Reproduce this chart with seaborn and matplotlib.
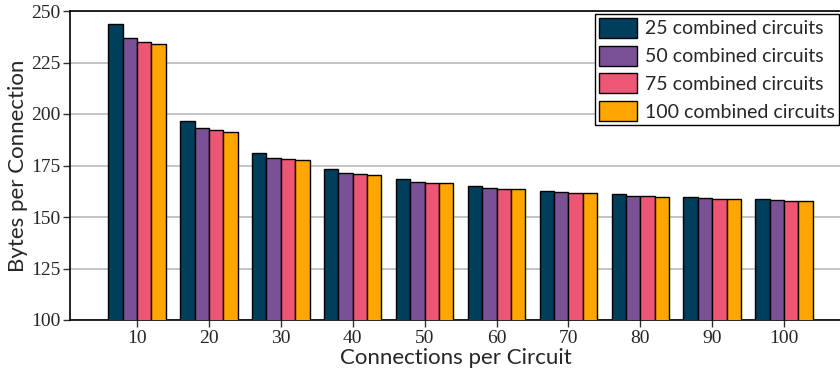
import matplotlib
matplotlib.use("Agg")
import matplotlib.pyplot as plt
import seaborn as sns
import pandas as pd

# Average bytes per connection, by connections per circuit and number of combined circuits
connections = [10, 20, 30, 40, 50, 60, 70, 80, 90, 100]
combined_25 = [243.7, 196.6, 180.9, 173.2, 168.3, 165.2, 162.8, 161.2, 159.9, 158.9]
combined_50 = [237.1, 193.4, 178.8, 171.4, 167.0, 164.1, 162.0, 160.3, 159.1, 158.1]
combined_75 = [235.0, 192.2, 178.0, 170.9, 166.7, 163.6, 161.7, 160.0, 158.9, 157.9]
combined_100 = [233.8, 191.4, 177.5, 170.5, 166.4, 163.4, 161.5, 159.9, 158.7, 157.8]
series_labels = ["25 combined circuits", "50 combined circuits",
                 "75 combined circuits", "100 combined circuits"]
colors = ["#003f5c", "#7a5195", "#ef5675", "#ffa600"]
y_ticks = [100, 125, 150, 175, 200, 225, 250]

rows = []
for label, values in zip(series_labels, [combined_25, combined_50, combined_75, combined_100]):
    for c, v in zip(connections, values):
        rows.append({"Connections per Circuit": str(c), "Bytes": v, "Series": label})
df = pd.DataFrame(rows)

sns.set_theme(style="white")
serif = ["Liberation Serif", "DejaVu Serif"]
sans = ["Lato", "DejaVu Sans"]
plt.rcParams["font.family"] = serif

fig = plt.figure(figsize=(8.4, 3.8), dpi=100)
ax = fig.add_axes([70 / 840, 60 / 380, 772 / 840, 309 / 380])

sns.barplot(data=df, x="Connections per Circuit", y="Bytes", hue="Series",
            palette=colors, width=0.8, edgecolor="black", linewidth=1.0,
            saturation=1.0, ax=ax, zorder=3)

ax.set_ylim(100, 250)
ax.set_xlim(-0.932, 9.805)
ax.set_yticks(y_ticks)
ax.set_yticklabels([str(t) for t in y_ticks], fontfamily=serif, fontsize=14)
ax.set_xticks(range(len(connections)))
ax.set_xticklabels([str(c) for c in connections], fontfamily=serif, fontsize=14)
ax.yaxis.grid(True, color="#bbbbbb", linewidth=1.2, zorder=0)
ax.set_axisbelow(True)

for side in ["left", "bottom", "top", "right"]:
    ax.spines[side].set_color("black")
    ax.spines[side].set_linewidth(1.2)

ax.tick_params(axis="both", which="major", direction="out", length=5, width=1.0,
               color="#333333", pad=2, left=True, bottom=True)

ax.set_xlabel("Connections per Circuit", fontsize=16, family=sans, labelpad=1)
ax.set_ylabel("Bytes per Connection", fontsize=16, family=sans, labelpad=2)

leg = ax.legend(loc="upper right", bbox_to_anchor=(1.0 - 3 / 772, 1.0 - 3 / 309),
                frameon=True, fancybox=False, framealpha=1.0, edgecolor="black",
                prop={"family": sans, "size": 14}, handlelength=2.0, handleheight=1.2,
                handletextpad=0.4, labelspacing=0.4, borderpad=0.2, borderaxespad=0)
leg.get_frame().set_linewidth(1.0)
for h in leg.legend_handles:
    h.set_edgecolor("black")
    h.set_linewidth(1.0)

fig.savefig("out.png", dpi=100)
